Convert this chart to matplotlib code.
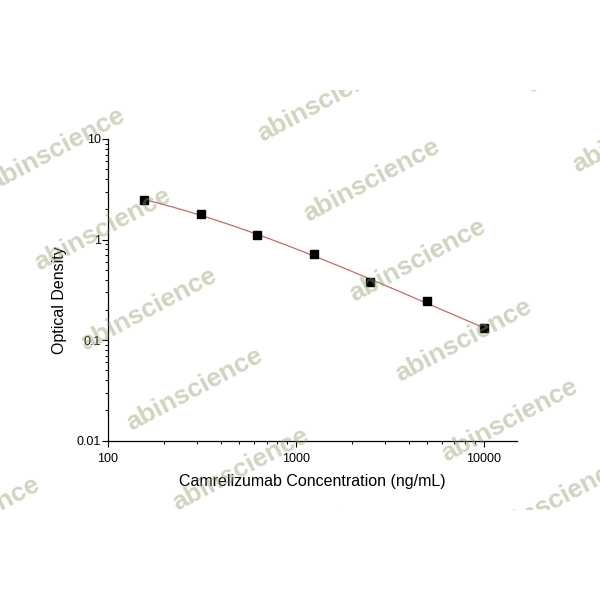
import numpy as np
import matplotlib
matplotlib.use("Agg")
import matplotlib.pyplot as plt
from matplotlib.patches import Rectangle

plt.rcParams['font.family'] = ['Liberation Sans', 'DejaVu Sans']

# Data
concentration = [156.25, 312.5, 625, 1250, 2500, 5000, 10000]
od = [2.48, 1.78, 1.10, 0.714, 0.379, 0.245, 0.131]
x_ticks = [100, 1000, 10000]
x_tick_labels = ["100", "1000", "10000"]
y_ticks = [0.01, 0.1, 1, 10]
y_tick_labels = ["0.01", "0.1", "1", "10"]
x_label = "Camrelizumab Concentration (ng/mL)"
y_label = "Optical Density"
watermark = "abinscience"

W = H = 600
fig = plt.figure(figsize=(6, 6), dpi=100)
fig.patch.set_facecolor("white")

# axes box in pixels (from top-left)
L, R, T, B = 107.7, 516.7, 139.0, 440.7
ax = fig.add_axes([L / W, 1 - B / H, (R - L) / W, (B - T) / H])
ax.set_xscale("log")
ax.set_yscale("log")
ax.set_xlim(100, 15000)
ax.set_ylim(0.01, 10)

# fitted curve (cubic in log-log space)
lx = np.log10(concentration)
ly = np.log10(od)
coef = np.polyfit(lx, ly, 3)
xs = np.linspace(lx[0], lx[-1], 200)
ax.plot(10 ** xs, 10 ** np.polyval(coef, xs), color="#c46a6a", lw=0.9, zorder=2)
ax.plot(concentration, od, linestyle="none", marker="s", markersize=6,
        color="black", zorder=3)

for s in ["top", "right"]:
    ax.spines[s].set_visible(False)
for s in ["left", "bottom"]:
    ax.spines[s].set_linewidth(0.9)

ax.set_xticks(x_ticks)
ax.set_xticklabels(x_tick_labels)
ax.set_yticks(y_ticks)
ax.set_yticklabels(y_tick_labels)
ax.tick_params(which="major", direction="out", length=4, width=0.8,
               labelsize=9, colors="black")
ax.tick_params(axis="x", which="major", pad=5)
ax.tick_params(axis="y", which="major", pad=1)
ax.tick_params(which="minor", direction="out", length=2.5, width=0.7)

ax.set_xlabel(x_label, fontsize=11.5)
ax.set_ylabel(y_label, fontsize=11.5)
ax.xaxis.set_label_coords(0.5, -(474 - B) / (B - T), transform=ax.transAxes)
ax.xaxis.label.set_va("top")
ax.yaxis.set_label_coords(-(L - 67) / (R - L), (B - 300) / (B - T))

# watermark lattice
clip = Rectangle((0, 1 - 510 / H), 1, (510 - 90) / H, transform=fig.transFigure,
                 facecolor="none", edgecolor="none")
fig.add_artist(clip)
x0, y0 = 103, 229
u = (46, 80)
v = (269, -49)
for i in range(-4, 5):
    for j in range(-2, 3):
        px = x0 + i * u[0] + j * v[0]
        py = y0 + i * u[1] + j * v[1]
        if -120 < px < 720 and 20 < py < 580:
            t = fig.text(px / W, 1 - py / H, watermark, fontsize=19,
                         fontweight="bold", color="#8a9c68", alpha=0.42,
                         rotation=28, ha="center", va="center",
                         rotation_mode="anchor", zorder=10)
            t.set_clip_path(clip)

fig.savefig("out.png", dpi=100, facecolor="white")
